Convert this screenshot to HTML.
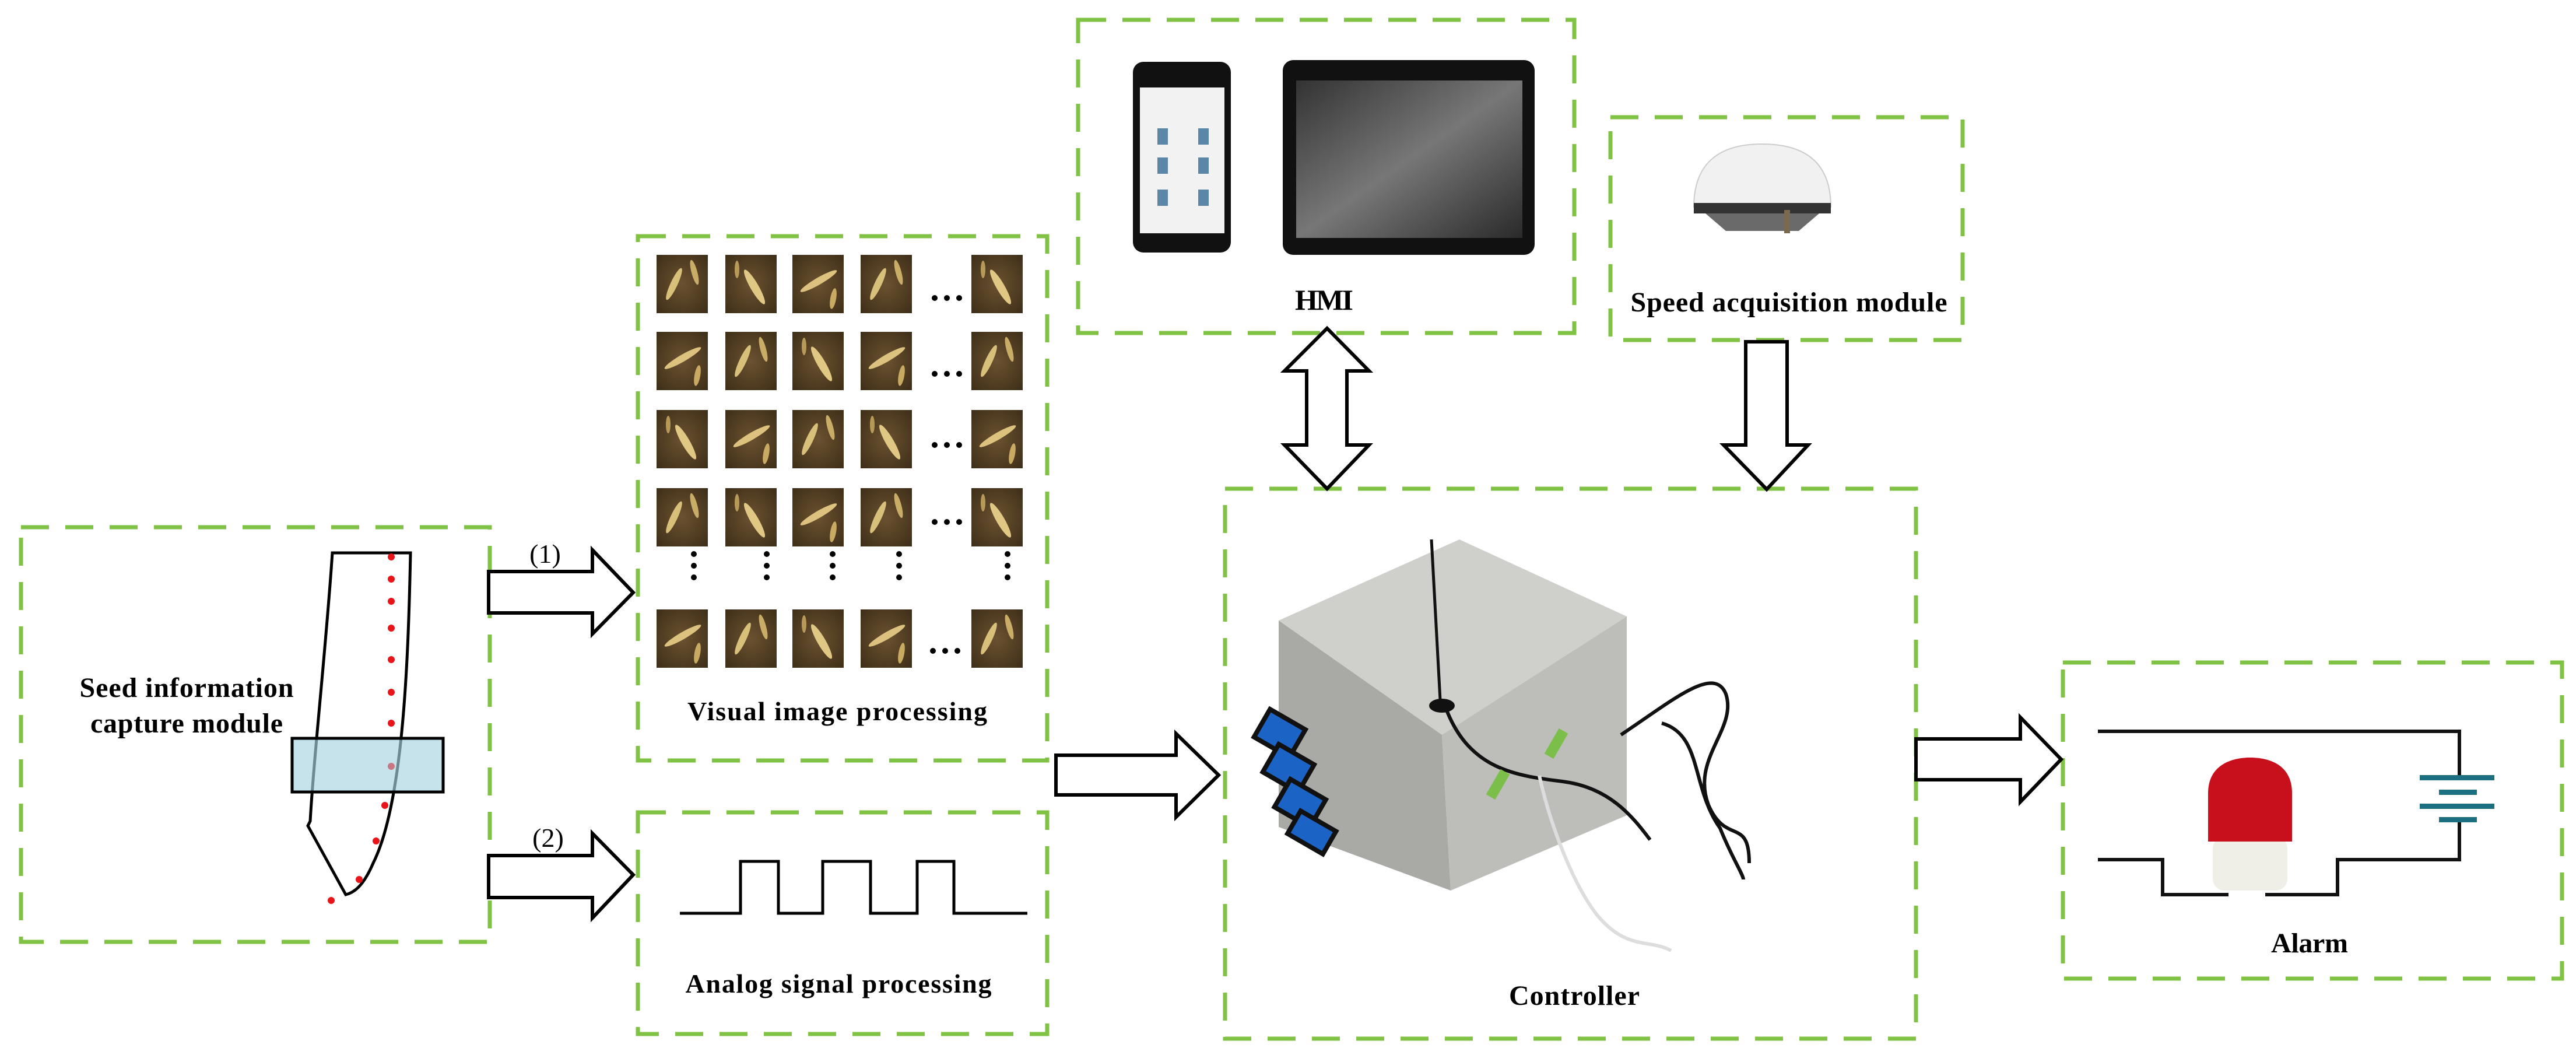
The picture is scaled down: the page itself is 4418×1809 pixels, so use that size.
<!DOCTYPE html>
<html><head><meta charset="utf-8"><style>
html,body{margin:0;padding:0;background:#fff;}
svg{display:block;}
text{font-family:"Liberation Serif",serif;fill:#000;}
</style></head><body>
<svg width="4418" height="1809" viewBox="0 0 4418 1809" xmlns="http://www.w3.org/2000/svg">
<defs>
<radialGradient id="soil" cx="50%" cy="50%" r="70%"><stop offset="0" stop-color="#6b5230"/><stop offset="1" stop-color="#3e2e18"/></radialGradient>
<linearGradient id="scr" x1="0" y1="0" x2="1" y2="1"><stop offset="0" stop-color="#333"/><stop offset="0.5" stop-color="#777"/><stop offset="1" stop-color="#2a2a2a"/></linearGradient>
<g id="t1"><rect width="88" height="100" fill="url(#soil)"/><ellipse cx="30" cy="50" rx="6" ry="30" fill="#d9c07a" transform="rotate(25 30 50)"/><ellipse cx="65" cy="30" rx="5" ry="22" fill="#c9ad66" transform="rotate(-15 65 30)"/></g>
<g id="t2"><rect width="88" height="100" fill="url(#soil)"/><ellipse cx="50" cy="55" rx="7" ry="34" fill="#e0c884" transform="rotate(-30 50 55)"/><ellipse cx="20" cy="25" rx="4" ry="15" fill="#b89a58"/></g>
<g id="t3"><rect width="88" height="100" fill="url(#soil)"/><ellipse cx="45" cy="45" rx="6" ry="36" fill="#dcc27e" transform="rotate(60 45 45)"/><ellipse cx="70" cy="75" rx="5" ry="18" fill="#c8aa62" transform="rotate(10 70 75)"/></g>
<g id="vd"><circle cx="0" cy="950" r="5"/><circle cx="0" cy="970" r="5"/><circle cx="0" cy="990" r="5"/></g>
</defs>
<g fill="none" stroke="#80c243" stroke-width="7" stroke-dasharray="48 28">
<rect x="36" y="904" width="804" height="711"/>
<rect x="1094" y="405" width="702" height="899"/>
<rect x="1094" y="1393" width="702" height="380"/>
<rect x="1849" y="34" width="851" height="537"/>
<rect x="2762" y="201" width="604" height="382"/>
<rect x="2101" y="838" width="1185" height="943"/>
<rect x="3538" y="1136" width="856" height="542"/>
</g>
<path d="M570 948 L704 948 C700 1150 690 1380 640 1480 C625 1515 610 1530 593 1534 L528 1416 L532 1408 C538 1300 560 1100 570 948 Z" fill="none" stroke="#000" stroke-width="5"/>
<rect x="501" y="1266" width="259" height="92" fill="#a8d4e0" fill-opacity="0.65" stroke="#000" stroke-width="5"/>
<g fill="#e8141a">
<circle cx="671" cy="955" r="6"/><circle cx="671" cy="993" r="6"/><circle cx="671" cy="1031" r="6"/><circle cx="671" cy="1077" r="6"/><circle cx="671" cy="1131" r="6"/><circle cx="671" cy="1187" r="6"/><circle cx="671" cy="1240" r="6"/><circle cx="671" cy="1314" r="6" fill="#c87880"/><circle cx="660" cy="1381" r="6"/><circle cx="645" cy="1442" r="6"/><circle cx="616" cy="1508" r="6"/><circle cx="568" cy="1544" r="6"/>
</g>
<text x="320" y="1195" font-size="48" font-weight="bold" text-anchor="middle" textLength="367">Seed information</text>
<text x="320" y="1256" font-size="48" font-weight="bold" text-anchor="middle" textLength="330">capture module</text>
<g fill="#fff" stroke="#000" stroke-width="6" stroke-linejoin="miter">
<path d="M838 980 L1016 980 L1016 943 L1086 1016 L1016 1087 L1016 1051 L838 1051 Z"/>
<path d="M838 1467 L1016 1467 L1016 1429 L1086 1500 L1016 1574 L1016 1539 L838 1539 Z"/>
<path d="M1811 1295 L2017 1295 L2017 1258 L2090 1329 L2017 1401 L2017 1363 L1811 1363 Z"/>
<path d="M3286 1267 L3465 1267 L3465 1230 L3535 1302 L3465 1375 L3465 1337 L3286 1337 Z"/>
<path d="M2276 563 L2348 636 L2310 636 L2310 763 L2348 763 L2276 838 L2203 763 L2241 763 L2241 636 L2203 636 Z"/>
<path d="M2994 586 L3065 586 L3065 763 L3101 763 L3030 839 L2956 763 L2994 763 Z"/>
</g>
<text x="935" y="965" font-size="46" text-anchor="middle">(1)</text>
<text x="940" y="1452" font-size="46" text-anchor="middle">(2)</text>
<g>
<use href="#t1" x="1126" y="437"/><use href="#t2" x="1244" y="437"/><use href="#t3" x="1359" y="437"/><use href="#t1" x="1476" y="437"/><use href="#t2" x="1666" y="437"/>
<use href="#t3" x="1126" y="569"/><use href="#t1" x="1244" y="569"/><use href="#t2" x="1359" y="569"/><use href="#t3" x="1476" y="569"/><use href="#t1" x="1666" y="569"/>
<use href="#t2" x="1126" y="703"/><use href="#t3" x="1244" y="703"/><use href="#t1" x="1359" y="703"/><use href="#t2" x="1476" y="703"/><use href="#t3" x="1666" y="703"/>
<use href="#t1" x="1126" y="837"/><use href="#t2" x="1244" y="837"/><use href="#t3" x="1359" y="837"/><use href="#t1" x="1476" y="837"/><use href="#t2" x="1666" y="837"/>
<use href="#t3" x="1126" y="1045"/><use href="#t1" x="1244" y="1045"/><use href="#t2" x="1359" y="1045"/><use href="#t3" x="1476" y="1045"/><use href="#t1" x="1666" y="1045"/>
</g>
<g fill="#000">
<circle cx="1603" cy="511" r="5"/><circle cx="1624" cy="511" r="5"/><circle cx="1645" cy="511" r="5"/>
<circle cx="1603" cy="641" r="5"/><circle cx="1624" cy="641" r="5"/><circle cx="1645" cy="641" r="5"/>
<circle cx="1603" cy="763" r="5"/><circle cx="1624" cy="763" r="5"/><circle cx="1645" cy="763" r="5"/>
<circle cx="1603" cy="895" r="5"/><circle cx="1624" cy="895" r="5"/><circle cx="1645" cy="895" r="5"/>
<circle cx="1600" cy="1116" r="5"/><circle cx="1621" cy="1116" r="5"/><circle cx="1642" cy="1116" r="5"/>
<use href="#vd" x="1190"/><use href="#vd" x="1315"/><use href="#vd" x="1428"/><use href="#vd" x="1542"/><use href="#vd" x="1728"/>
</g>
<text x="1436" y="1235" font-size="46" font-weight="bold" text-anchor="middle" textLength="514">Visual image processing</text>
<polyline points="1166,1566 1270,1566 1270,1477 1335,1477 1335,1566 1411,1566 1411,1477 1493,1477 1493,1566 1573,1566 1573,1477 1636,1477 1636,1566 1762,1566" fill="none" stroke="#000" stroke-width="5"/>
<text x="1438" y="1702" font-size="46" font-weight="bold" text-anchor="middle" textLength="525">Analog signal processing</text>
<rect x="1943" y="106" width="168" height="327" rx="18" fill="#111"/>
<rect x="1955" y="150" width="145" height="250" fill="#f2f2f2"/>
<g fill="#5a86a8"><rect x="1985" y="220" width="18" height="28"/><rect x="2055" y="220" width="18" height="28"/><rect x="1985" y="270" width="18" height="28"/><rect x="2055" y="270" width="18" height="28"/><rect x="1985" y="325" width="18" height="28"/><rect x="2055" y="325" width="18" height="28"/></g>
<rect x="2200" y="103" width="432" height="334" rx="18" fill="#111"/>
<rect x="2223" y="138" width="388" height="270" fill="url(#scr)"/>
<text x="2271" y="531" font-size="50" font-weight="bold" text-anchor="middle" textLength="100">HMI</text>
<path d="M2905 355 C2905 270 2960 247 3022 247 C3085 247 3140 270 3140 355 Z" fill="#f1f1f1" stroke="#ccc" stroke-width="2"/>
<rect x="2905" y="348" width="235" height="18" fill="#333"/>
<path d="M2925 366 L3120 366 L3085 396 L2960 396 Z" fill="#6a6a6a"/>
<rect x="3060" y="360" width="10" height="40" fill="#7a6a50"/>
<text x="3068" y="534" font-size="48" font-weight="bold" text-anchor="middle" textLength="543">Speed acquisition module</text>
<polygon points="2503,925 2790,1057 2473,1260 2193,1064" fill="#cfcfcb"/>
<polygon points="2193,1064 2473,1260 2488,1527 2193,1418" fill="#a9a9a6"/>
<polygon points="2473,1260 2790,1057 2790,1398 2488,1527" fill="#bdbdb9"/>
<g fill="#1b63c4" stroke="#111" stroke-width="8">
<rect x="2160" y="1230" width="70" height="55" transform="rotate(30 2195 1257)"/>
<rect x="2175" y="1290" width="70" height="55" transform="rotate(30 2210 1317)"/>
<rect x="2195" y="1350" width="70" height="55" transform="rotate(30 2230 1377)"/>
<rect x="2215" y="1405" width="70" height="45" transform="rotate(30 2250 1427)"/>
</g>
<line x1="2455" y1="925" x2="2470" y2="1200" stroke="#111" stroke-width="5"/>
<ellipse cx="2473" cy="1210" rx="22" ry="12" fill="#111"/>
<path d="M2480 1215 C2520 1320 2600 1330 2680 1340 C2760 1350 2800 1400 2830 1440" fill="none" stroke="#111" stroke-width="6"/>
<path d="M2780 1260 C2870 1200 2940 1140 2960 1190 C2980 1250 2900 1300 2930 1380 C2960 1450 3000 1400 3000 1480 M2850 1240 C2920 1260 2900 1350 2950 1420 C2970 1470 2990 1500 2990 1508" fill="none" stroke="#111" stroke-width="6"/>
<path d="M2640 1330 C2660 1420 2700 1520 2740 1570 C2790 1630 2830 1610 2866 1630" fill="none" stroke="#ddd" stroke-width="6"/>
<rect x="2660" y="1250" width="18" height="50" fill="#7bbf4a" transform="rotate(30 2669 1275)"/>
<rect x="2560" y="1320" width="18" height="50" fill="#7bbf4a" transform="rotate(30 2569 1345)"/>
<text x="2700" y="1723" font-size="48" font-weight="bold" text-anchor="middle" textLength="224">Controller</text>
<g fill="none" stroke="#111" stroke-width="6">
<polyline points="3598,1254 4218,1254 4218,1333"/>
<polyline points="4218,1405 4218,1474 4009,1474 4009,1534 3885,1534"/>
<polyline points="3822,1534 3709,1534 3709,1474 3598,1474"/>
</g>
<g fill="#1b6f80">
<rect x="4150" y="1329" width="128" height="9"/><rect x="4183" y="1354" width="65" height="9"/><rect x="4150" y="1378" width="128" height="9"/><rect x="4183" y="1401" width="65" height="9"/>
</g>
<rect x="3795" y="1435" width="128" height="92" rx="20" fill="#efefe8"/>
<path d="M3787 1443 L3787 1360 C3787 1310 3830 1299 3859 1299 C3890 1299 3931 1310 3931 1360 L3931 1443 Z" fill="#c8101c"/>
<text x="3961" y="1633" font-size="48" font-weight="bold" text-anchor="middle" textLength="132">Alarm</text>
</svg>
</body></html>
